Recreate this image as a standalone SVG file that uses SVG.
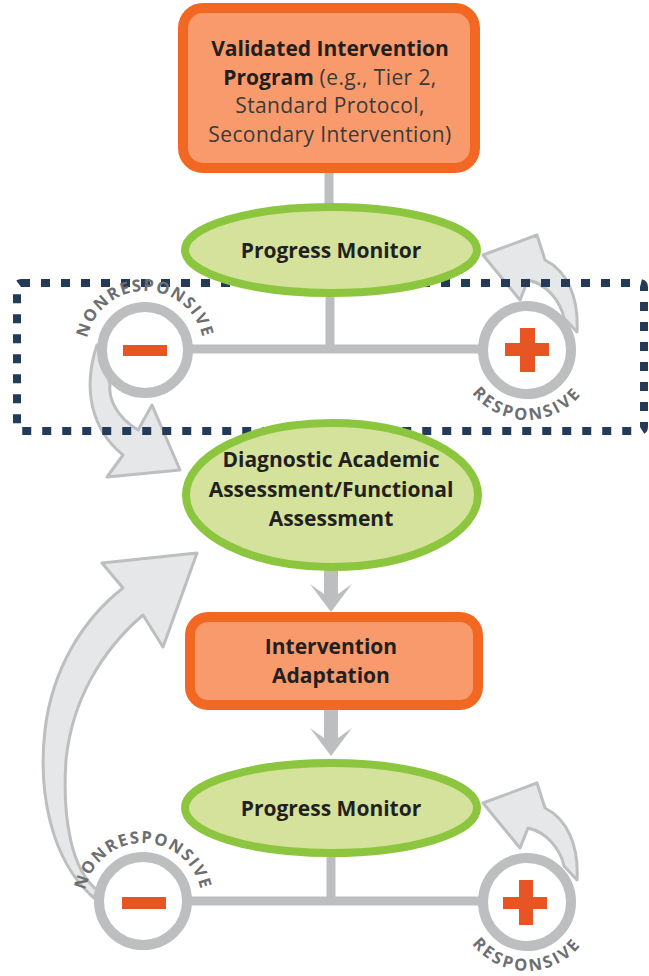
<svg xmlns="http://www.w3.org/2000/svg" width="649" height="976" viewBox="0 0 649 976">
<style>
.box{fill:#F89A6B;stroke:#F26722;stroke-width:10}
.ell{fill:#D4E29B;stroke:#8CC63F;stroke-width:8}
.ln{stroke:#BCBEC0;stroke-width:9;fill:none}
.dn{fill:#BCBEC0}
.curv{fill:#E6E7E8;stroke:#BCBEC0;stroke-width:3;stroke-linejoin:round}
.ring{fill:#fff;stroke:#BCBEC0;stroke-width:10}
.sign{fill:#E85524}
.t{font-family:"Open Sans","Liberation Sans",sans-serif;font-size:21px;fill:#231F20;text-anchor:middle}
.b{font-weight:700}
.r{font-weight:400;fill:#3A3A3A;letter-spacing:0.4px}
.arc{font-family:"Open Sans","Liberation Sans",sans-serif;font-size:16.5px;font-weight:700;fill:#6D6E71}
.dots{fill:none;stroke:#233B58;stroke-width:8;stroke-dasharray:9 11}
</style>
<defs>
<path id="nr1" d="M 86,350 A 59,59 0 0 1 204,350"/>
<path id="nr2" d="M 84,902 A 59,59 0 0 1 202,902"/>
<path id="r1" d="M 457,350 A 70,70 0 0 0 597,350"/>
<path id="r2" d="M 458,902 A 69,69 0 0 0 596,902"/>
<path id="curveR" d="M 577,332 C 579,297 567,271 545,260 L 537,235 L 483,255 L 520,300 L 528,280 C 546,284 560,300 564,318 Z"/>
</defs>
<g id="connectors">
<line class="ln" x1="329" y1="170" x2="329" y2="206"/>
<line class="ln" x1="330" y1="294" x2="330" y2="350"/>
<line class="ln" x1="145" y1="349" x2="527" y2="349"/>
<line class="ln" x1="331" y1="855" x2="331" y2="902"/>
<line class="ln" x1="143" y1="901" x2="527" y2="901"/>
<polygon class="dn" points="324,570 338,570 338,594 352,584 331,612 310,584 324,594"/>
<polygon class="dn" points="324,708 338,708 338,738 352,728 331,756 310,728 324,738"/>
<use href="#curveR" class="curv"/>
<use href="#curveR" class="curv" transform="translate(0,548)"/>
<path class="curv" d="M 97,345 C 82,390 92,430 123,455 L 107,477 L 180,470 L 152,405 L 138,430 C 118,418 108,400 110,384 Z"/>
<path class="curv" d="M 94,898 C 50,860 38,790 45,730 C 52,670 82,620 123,588 L 102,563 L 197,553 L 163,647 L 143,615 C 102,650 72,700 66,760 C 62,820 72,870 97,890 Z"/>
</g>
<rect id="focus" class="dots" x="17" y="283" width="627" height="148" rx="4"/>
<g id="box1">
<rect class="box" x="183" y="8" width="292" height="160" rx="20"/>
<text class="t b" x="330" y="56">Validated Intervention</text>
<text class="t" x="330" y="85"><tspan class="b">Program</tspan><tspan class="r"> (e.g., Tier 2,</tspan></text>
<text class="t r" x="330" y="113">Standard Protocol,</text>
<text class="t r" x="330" y="142">Secondary Intervention)</text>
</g>
<g id="pm1">
<ellipse class="ell" cx="331" cy="250" rx="146" ry="43"/>
<text class="t b" x="331" y="258">Progress Monitor</text>
</g>
<g id="neg1">
<circle class="ring" cx="145" cy="350" r="43"/>
<rect class="sign" x="123" y="345" width="44" height="11"/>
<text class="arc" letter-spacing="1.6"><textPath href="#nr1" startOffset="50%" text-anchor="middle">NONRESPONSIVE</textPath></text>
</g>
<g id="pos1">
<circle class="ring" cx="527" cy="350" r="44"/>
<rect class="sign" x="505" y="343" width="44" height="13"/>
<rect class="sign" x="520" y="328" width="15" height="44"/>
<text class="arc" letter-spacing="2.6"><textPath href="#r1" startOffset="50%" text-anchor="middle">RESPONSIVE</textPath></text>
</g>
<g id="diag">
<ellipse class="ell" cx="332" cy="495" rx="146" ry="72"/>
<text class="t b" x="331" y="467">Diagnostic Academic</text>
<text class="t b" x="331" y="497">Assessment/Functional</text>
<text class="t b" x="331" y="526">Assessment</text>
</g>
<g id="adapt">
<rect class="box" x="190" y="617" width="288" height="88" rx="18"/>
<text class="t b" x="331" y="654">Intervention</text>
<text class="t b" x="331" y="683">Adaptation</text>
</g>
<g id="pm2">
<ellipse class="ell" cx="331" cy="808" rx="146" ry="45"/>
<text class="t b" x="331" y="816">Progress Monitor</text>
</g>
<g id="neg2">
<circle class="ring" cx="143" cy="901" r="44"/>
<rect class="sign" x="122" y="897" width="44" height="12"/>
<text class="arc" letter-spacing="1.6"><textPath href="#nr2" startOffset="50%" text-anchor="middle">NONRESPONSIVE</textPath></text>
</g>
<g id="pos2">
<circle class="ring" cx="527" cy="902" r="44"/>
<rect class="sign" x="503" y="897" width="44" height="12"/>
<rect class="sign" x="519" y="880" width="14" height="45"/>
<text class="arc" letter-spacing="2.6"><textPath href="#r2" startOffset="50%" text-anchor="middle">RESPONSIVE</textPath></text>
</g>
</svg>
